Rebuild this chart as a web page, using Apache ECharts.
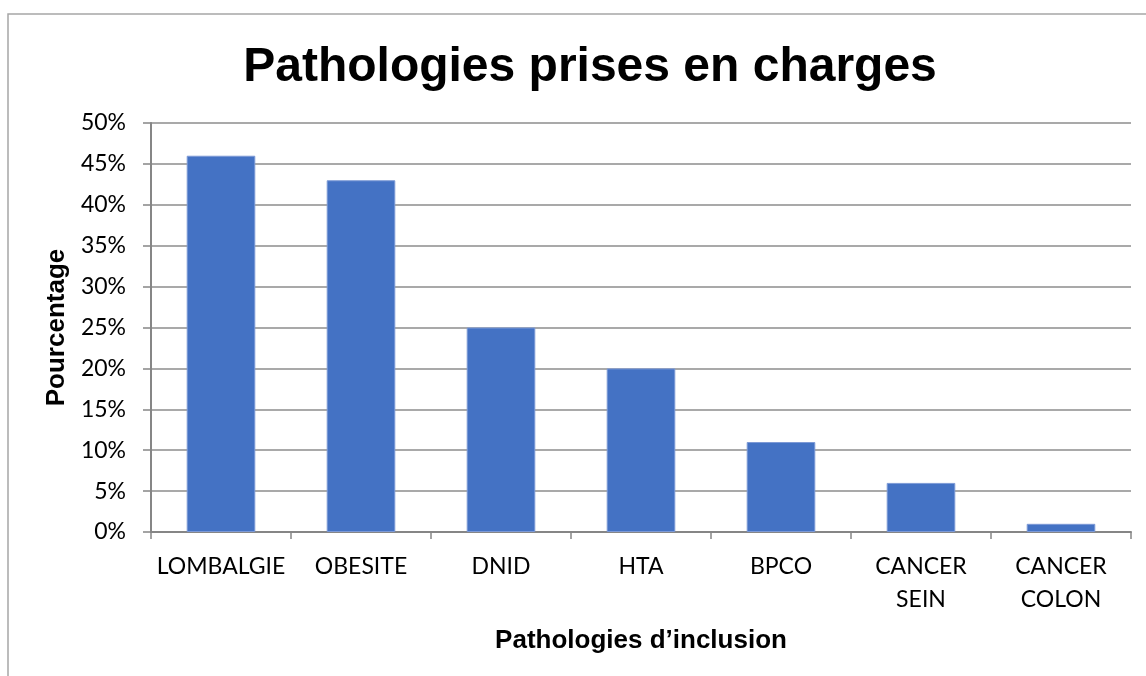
<!DOCTYPE html>
<html>
<head>
<meta charset="utf-8">
<script src="https://cdn.jsdelivr.net/npm/echarts@6/dist/echarts.min.js"></script>
<style>
  html, body { margin: 0; padding: 0; background: #fff; }
  #chart { width: 1146px; height: 676px; }
</style>
</head>
<body>
<div id="chart"></div>
<script>
// catégories et valeurs (%)
var categories = ['LOMBALGIE', 'OBESITE', 'DNID', 'HTA', 'BPCO', 'CANCER\nSEIN', 'CANCER\nCOLON'];
var values = [46, 43, 25, 20, 11, 6, 1];

var yMin = 0, yMax = 50, yStep = 5;

var myChart = echarts.init(document.getElementById('chart'));

var option = {
    animation: false,
    backgroundColor: '#fff',
    title: {
        text: 'Pathologies prises en charges',
        left: 585,
        top: 39,
        textAlign: 'center',
        textStyle: {
            fontFamily: 'Liberation Sans',
            fontWeight: 'bold',
            fontSize: 48,
            lineHeight: 48,
            color: '#000'
        }
    },
    graphic: [{
        type: 'rect',
        silent: true,
        shape: {x: 8, y: 14, width: 1300, height: 800},
        style: {fill: 'none', stroke: '#a6a6a6', lineWidth: 1.5}
    }],
    grid: {left: 151, right: 15, top: 123, bottom: 144},
    xAxis: {
        type: 'category',
        data: categories,
        name: 'Pathologies d\u2019inclusion',
        nameLocation: 'middle',
        nameGap: 96,
        nameTextStyle: {
            fontFamily: 'Liberation Sans',
            fontWeight: 'bold',
            fontSize: 26,
            color: '#000'
        },
        axisLine: {lineStyle: {color: '#868686', width: 2}},
        axisTick: {show: true, length: 7, lineStyle: {color: '#868686', width: 1.5}},
        axisLabel: {
            interval: 0,
            margin: 18,
            fontFamily: 'Lato',
            fontSize: 23,
            lineHeight: 33,
            color: '#000'
        }
    },
    yAxis: {
        type: 'value',
        min: yMin,
        max: yMax,
        interval: yStep,
        name: 'Pourcentage',
        nameLocation: 'middle',
        nameGap: 80,
        nameRotate: 90,
        nameTextStyle: {
            fontFamily: 'Liberation Sans',
            fontWeight: 'bold',
            fontSize: 26,
            color: '#000'
        },
        axisLine: {show: true, lineStyle: {color: '#868686', width: 2}},
        axisTick: {show: true, length: 8, lineStyle: {color: '#868686', width: 1.5}},
        axisLabel: {
            margin: 25,
            fontFamily: 'Lato',
            fontSize: 23,
            color: '#000',
            formatter: '{value}%'
        },
        splitLine: {lineStyle: {color: '#8c8c8c', width: 1.5}}
    },
    series: [{
        type: 'bar',
        data: values,
        barWidth: '49%',
        itemStyle: {color: '#4472C4', borderColor: '#7d9ad6', borderWidth: 1}
    }]
};

myChart.setOption(option);
window.onresize = function () {
    myChart.resize();
};
</script>
</body>
</html>
